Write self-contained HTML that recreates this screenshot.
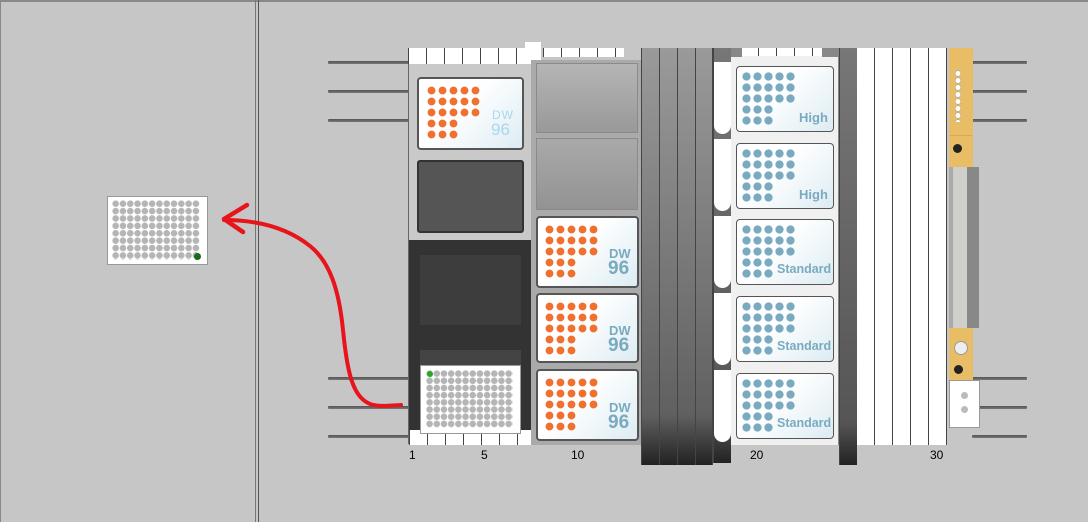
<!DOCTYPE html>
<html><head><meta charset="utf-8"><style>
*{margin:0;padding:0;box-sizing:border-box}
body{width:1088px;height:522px;background:#c6c6c6;position:relative;overflow:hidden;font-family:"Liberation Sans",sans-serif}
.a{position:absolute}
.rod{position:absolute;height:3px;background:linear-gradient(#555,#777);border-radius:1px}
.dw{position:absolute;background:linear-gradient(135deg,#fff 40%,#dcecf3);border:2px solid #555;border-radius:4px}
.od1{position:absolute;background:radial-gradient(circle,#f07030 3.6px,transparent 4.2px);background-size:11px 11px}
.bd1{position:absolute;background:radial-gradient(circle,#7aaac0 3.8px,transparent 4.4px);background-size:11px 11px}
.lbl{position:absolute;color:#7aaac0;font-weight:bold;font-size:13px}
.num{position:absolute;font-size:12px;color:#000;top:448px}
.gd{position:absolute;background:radial-gradient(circle,#b5b5b5 3px,transparent 3.5px)}
.dk{position:absolute;border-left:1px solid #444;background:linear-gradient(#9a9a9a,#606060 88%,#222)}
</style></head><body>
<div class="a" style="left:0;top:0;width:1088px;height:2px;background:#888"></div>
<div class="a" style="left:255px;top:0;width:1px;height:522px;background:#777"></div>
<div class="a" style="left:258px;top:0;width:1px;height:522px;background:#555"></div>
<div class="a" style="left:0;top:0;width:1px;height:522px;background:#888"></div>

<div class="rod" style="left:328px;top:61px;width:82px"></div>
<div class="rod" style="left:328px;top:90px;width:82px"></div>
<div class="rod" style="left:328px;top:119px;width:82px"></div>
<div class="rod" style="left:328px;top:377px;width:82px"></div>
<div class="rod" style="left:328px;top:406px;width:82px"></div>
<div class="rod" style="left:328px;top:435px;width:82px"></div>
<div class="rod" style="left:972px;top:61px;width:55px"></div>
<div class="rod" style="left:972px;top:90px;width:55px"></div>
<div class="rod" style="left:972px;top:119px;width:55px"></div>
<div class="rod" style="left:972px;top:377px;width:55px"></div>
<div class="rod" style="left:972px;top:406px;width:55px"></div>
<div class="rod" style="left:972px;top:435px;width:55px"></div>

<!-- left plate -->
<div class="a" style="left:107px;top:196px;width:101px;height:69px;background:#fff;border:1px solid #999"></div>
<div class="gd" style="left:112px;top:200px;width:88px;height:60px;background-size:7.3px 7.4px"></div>
<div class="a" style="left:194px;top:253px;width:7px;height:7px;border-radius:50%;background:#1a6a1a"></div>

<!-- carrier 1 -->
<div class="a" style="left:408px;top:64px;width:123px;height:380px;background:#c9c9c9;border-left:1px solid #666"></div>
<div class="a" style="left:408px;top:48px;width:126px;height:16px;background:#fff"></div>
<div class="a" style="left:408px;top:48px;width:126px;height:16px;background:repeating-linear-gradient(90deg,#444 0 1px,transparent 1px 18px)"></div>
<div class="a" style="left:525px;top:42px;width:16px;height:22px;background:#fff"></div>
<div class="dw" style="left:417px;top:77px;width:107px;height:73px"></div>
<div class="od1" style="left:426px;top:85px;width:55px;height:33px;background-size:11px 11px"></div>
<div class="od1" style="left:426px;top:118px;width:33px;height:22px"></div>
<div class="a" style="left:492px;top:108px;color:#a8d8ee;font-size:12px;letter-spacing:1px">DW</div>
<div class="a" style="left:491px;top:120px;color:#a8d8ee;font-size:17px">96</div>
<div class="a" style="left:417px;top:160px;width:107px;height:73px;background:#555;border:2px solid #333;border-radius:3px"></div>
<div class="a" style="left:409px;top:240px;width:122px;height:190px;background:#333"></div>
<div class="a" style="left:420px;top:255px;width:101px;height:70px;background:#3d3d3d"></div>
<div class="a" style="left:420px;top:350px;width:101px;height:80px;background:#444"></div>
<div class="a" style="left:409px;top:430px;width:122px;height:15px;background:#fff"></div>
<div class="a" style="left:409px;top:430px;width:122px;height:15px;background:repeating-linear-gradient(90deg,#444 0 1px,transparent 1px 18px)"></div>
<div class="a" style="left:420px;top:365px;width:101px;height:69px;background:#fff;border:1px solid #999"></div>
<div class="gd" style="left:426px;top:370px;width:87px;height:58px;background-size:7.2px 7.2px"></div>
<div class="a" style="left:427px;top:371px;width:6px;height:6px;border-radius:50%;background:#2a2"></div>

<!-- carrier 2 -->
<div class="a" style="left:531px;top:60px;width:110px;height:385px;background:#aaa"></div>
<div class="a" style="left:543px;top:48px;width:81px;height:9px;background:#fff"></div>
<div class="a" style="left:543px;top:48px;width:81px;height:9px;background:repeating-linear-gradient(90deg,#444 0 1px,transparent 1px 18px)"></div>
<div class="a" style="left:536px;top:63px;width:102px;height:70px;background:linear-gradient(#b5b5b5,#999);border:1px solid #8a8a8a"></div>
<div class="a" style="left:536px;top:138px;width:102px;height:72px;background:linear-gradient(#a9a9a9,#939393);border:1px solid #8a8a8a"></div>

<div class="dw" style="left:536px;top:216px;width:103px;height:72px"></div>
<div class="od1" style="left:544px;top:224px;width:55px;height:33px"></div>
<div class="od1" style="left:544px;top:257px;width:33px;height:22px"></div>
<div class="lbl" style="left:609px;top:246px;font-size:13px">DW</div>
<div class="lbl" style="left:608px;top:258px;font-size:19px">96</div>

<div class="dw" style="left:536px;top:293px;width:103px;height:70px"></div>
<div class="od1" style="left:544px;top:301px;width:55px;height:33px"></div>
<div class="od1" style="left:544px;top:334px;width:33px;height:22px"></div>
<div class="lbl" style="left:609px;top:323px;font-size:13px">DW</div>
<div class="lbl" style="left:608px;top:335px;font-size:19px">96</div>

<div class="dw" style="left:536px;top:369px;width:103px;height:72px"></div>
<div class="od1" style="left:544px;top:377px;width:55px;height:33px"></div>
<div class="od1" style="left:544px;top:410px;width:33px;height:22px"></div>
<div class="lbl" style="left:609px;top:400px;font-size:13px">DW</div>
<div class="lbl" style="left:608px;top:412px;font-size:19px">96</div>

<!-- dark stripes -->
<div class="dk" style="left:641px;top:48px;width:18px;height:417px"></div>
<div class="dk" style="left:659px;top:48px;width:18px;height:417px"></div>
<div class="dk" style="left:677px;top:48px;width:18px;height:417px"></div>
<div class="dk" style="left:695px;top:48px;width:18px;height:417px;border-right:1px solid #444"></div>
<div class="dk" style="left:713px;top:48px;width:18px;height:415px;background:linear-gradient(#777,#555 90%,#222)"></div>
<div class="a" style="left:714px;top:62px;width:17px;height:72px;background:#fff;border-radius:0 0 9px 9px"></div>
<div class="a" style="left:714px;top:139px;width:17px;height:72px;background:#fff;border-radius:0 0 9px 9px"></div>
<div class="a" style="left:714px;top:216px;width:17px;height:72px;background:#fff;border-radius:0 0 9px 9px"></div>
<div class="a" style="left:714px;top:293px;width:17px;height:72px;background:#fff;border-radius:0 0 9px 9px"></div>
<div class="a" style="left:714px;top:370px;width:17px;height:72px;background:#fff;border-radius:0 0 9px 9px"></div>

<!-- carrier 3 -->
<div class="a" style="left:731px;top:48px;width:108px;height:397px;background:#f0f0f0;border-right:1px solid #888"></div>
<div class="a" style="left:740px;top:48px;width:85px;height:8px;background:repeating-linear-gradient(90deg,#444 0 1px,#fff 1px 18px)"></div>
<div class="a" style="left:731px;top:48px;width:11px;height:9px;background:#888"></div>
<div class="a" style="left:822px;top:48px;width:17px;height:9px;background:#888"></div>

<div class="dw" style="left:736px;top:66px;width:98px;height:66px;border-width:1px"></div>
<div class="bd1" style="left:741px;top:71px;width:55px;height:33px"></div>
<div class="bd1" style="left:741px;top:104px;width:33px;height:22px"></div>
<div class="lbl" style="left:799px;top:110px">High</div>

<div class="dw" style="left:736px;top:143px;width:98px;height:66px;border-width:1px"></div>
<div class="bd1" style="left:741px;top:148px;width:55px;height:33px"></div>
<div class="bd1" style="left:741px;top:181px;width:33px;height:22px"></div>
<div class="lbl" style="left:799px;top:187px">High</div>

<div class="dw" style="left:736px;top:219px;width:98px;height:66px;border-width:1px"></div>
<div class="bd1" style="left:741px;top:224px;width:55px;height:33px"></div>
<div class="bd1" style="left:741px;top:257px;width:33px;height:22px"></div>
<div class="lbl" style="left:777px;top:262px;font-size:12.5px">Standard</div>

<div class="dw" style="left:736px;top:296px;width:98px;height:66px;border-width:1px"></div>
<div class="bd1" style="left:741px;top:301px;width:55px;height:33px"></div>
<div class="bd1" style="left:741px;top:334px;width:33px;height:22px"></div>
<div class="lbl" style="left:777px;top:339px;font-size:12.5px">Standard</div>

<div class="dw" style="left:736px;top:373px;width:98px;height:66px;border-width:1px"></div>
<div class="bd1" style="left:741px;top:378px;width:55px;height:33px"></div>
<div class="bd1" style="left:741px;top:411px;width:33px;height:22px"></div>
<div class="lbl" style="left:777px;top:416px;font-size:12.5px">Standard</div>

<div class="dk" style="left:839px;top:48px;width:18px;height:417px;background:linear-gradient(#777,#555 90%,#222)"></div>

<!-- white cells -->
<div class="a" style="left:857px;top:48px;width:90px;height:397px;background:repeating-linear-gradient(90deg,#fff 0 17px,#444 17px 18px);border-right:1px solid #444"></div>

<!-- yellow module -->
<div class="a" style="left:949px;top:48px;width:24px;height:119px;background:#e9bd66"></div>
<div class="a" style="left:955px;top:70px;width:6px;height:52px;background:radial-gradient(circle,#fff 2.3px,#999 2.8px,transparent 3.2px);background-size:6px 7px"></div>
<div class="a" style="left:950px;top:135px;width:22px;height:1px;background:#d9a850"></div>
<div class="a" style="left:953px;top:144px;width:9px;height:9px;border-radius:50%;background:#222"></div>
<div class="a" style="left:949px;top:167px;width:30px;height:161px;background:linear-gradient(90deg,#aaa 0 4px,#cfcfcb 4px 18px,#888 18px)"></div>
<div class="a" style="left:949px;top:328px;width:24px;height:52px;background:#e9bd66"></div>
<div class="a" style="left:954px;top:341px;width:14px;height:14px;border-radius:50%;background:#eee;border:1px solid #999"></div>
<div class="a" style="left:954px;top:365px;width:9px;height:9px;border-radius:50%;background:#222"></div>
<div class="a" style="left:949px;top:380px;width:31px;height:48px;background:#fff;border:1px solid #999"></div>
<div class="a" style="left:961px;top:392px;width:7px;height:7px;border-radius:50%;background:#bbb"></div>
<div class="a" style="left:961px;top:406px;width:7px;height:7px;border-radius:50%;background:#bbb"></div>

<div class="num" style="left:409px">1</div>
<div class="num" style="left:481px">5</div>
<div class="num" style="left:571px">10</div>
<div class="num" style="left:750px">20</div>
<div class="num" style="left:930px">30</div>

<svg class="a" style="left:0;top:0" width="1088" height="522">
<path d="M401,405 C385,406 375,407 368,403 C352,395 347,370 343,330 C339,290 330,262 310,246 C290,230 262,220 224,220" fill="none" stroke="#e8141c" stroke-width="4" stroke-linecap="round"/>
<path d="M247,205 L224,219 L243,232" fill="none" stroke="#e8141c" stroke-width="4.5" stroke-linecap="round" stroke-linejoin="round"/>
</svg>
</body></html>
